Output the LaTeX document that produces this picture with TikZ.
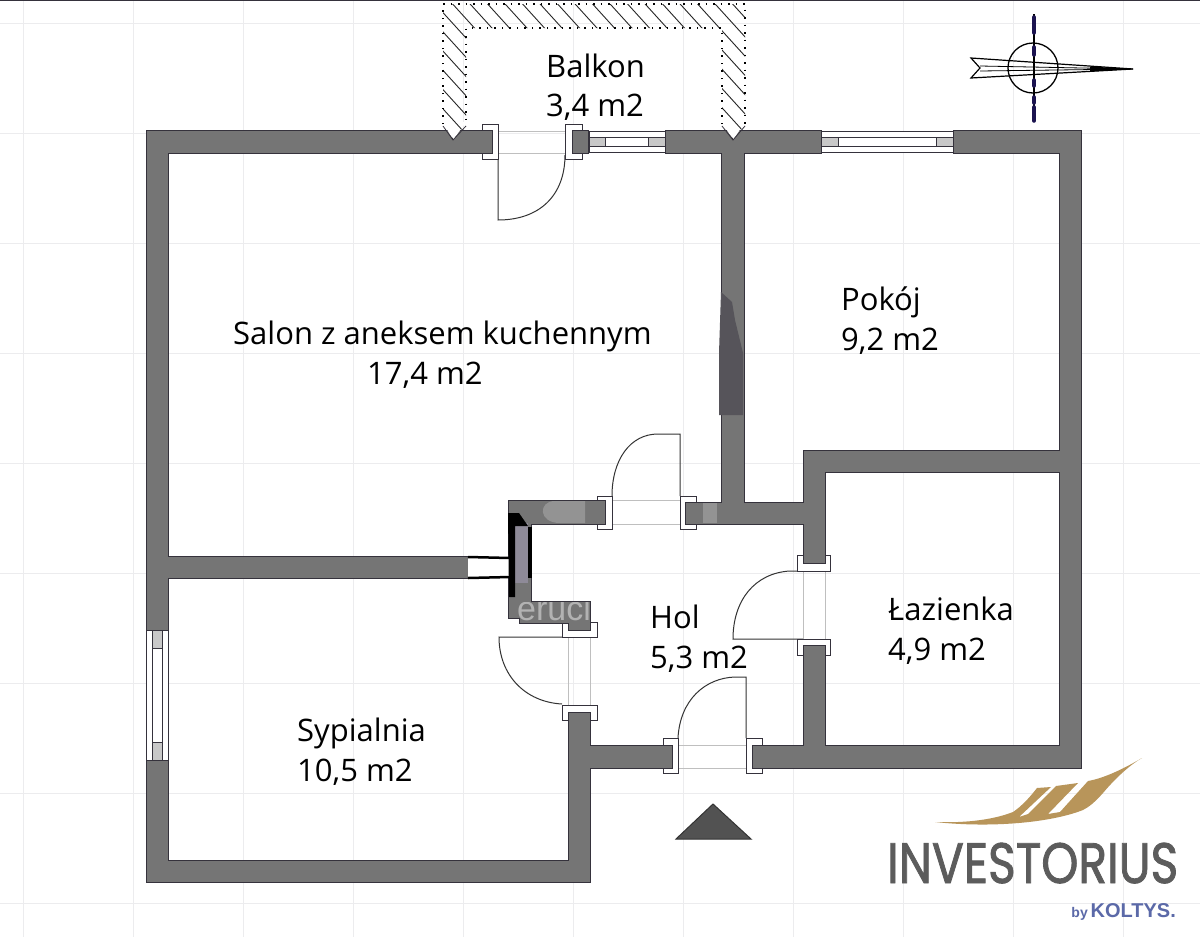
\documentclass[tikz,border=0pt]{standalone}
\usepackage{fontspec}
\setmainfont{Open Sans}
\newfontfamily\logofont[FakeBold=1.6]{Poppins}
\newfontfamily\brandfont{Liberation Sans}
\usetikzlibrary{calc}
\definecolor{wallgray}{HTML}{757575}
\definecolor{walledge}{HTML}{35323C}
\definecolor{gridgray}{HTML}{ECECEE}
\definecolor{sillgray}{HTML}{C8C8C8}
\definecolor{smeargray}{HTML}{56545A}
\definecolor{lilacgray}{HTML}{8E8A98}
\definecolor{inkblue}{HTML}{1C1450}
\definecolor{swooshgold}{HTML}{B8955A}
\definecolor{logogray}{HTML}{5C5C5C}
\definecolor{koltysblue}{HTML}{5B69A8}

\begin{document}
\begin{tikzpicture}[
        x=1pt, y=-1pt,
        wall/.style={fill=wallgray, draw=walledge, line width=1pt},
        doorframe/.style={fill=white, draw=walledge, line width=1pt},
        doorleaf/.style={draw=black!80, line width=1pt},
        opening/.style={draw=black!25, line width=0.8pt},
        sash/.style={draw=walledge, line width=1pt},
        roomlabel/.style={anchor=base west, inner sep=0, text=black, font=\fontsize{31}{31}\selectfont}
    ]
        \useasboundingbox (0,0) rectangle (1200,937);
        \fill[white] (0,0) rectangle (1200,937);

        % grid
        \foreach \x in {23,133,...,1123} {
            \draw[gridgray, line width=1pt] (\x,0) -- (\x,937);
        }
        \foreach \y in {23,133,...,903} {
            \draw[gridgray, line width=1pt] (0,\y) -- (1200,\y);
        }
        \draw[walledge, line width=1.5pt] (0,0) -- (1200,0);

        % door openings: faint lines over the gap
        \foreach \xa/\ya/\xb/\yb in {
            498/131/565/131, 498/153/565/153,
            612/500/680/500, 612/524/680/524,
            678/745/746/745, 678/768/746/768,
            803/571/803/639, 825/571/825/639,
            568/637/568/705, 590/637/590/705
        } {
            \draw[opening] (\xa,\ya) -- (\xb,\yb);
        }

        % door leaves
        \draw[doorleaf] (498,159) -- (498,220) .. controls (540,220) and (565,195) .. (565,155);
        \draw[doorleaf] (680,496) -- (680,434) -- (658,434) .. controls (630,434) and (612,460) .. (612,496);
        \draw[doorleaf] (803,571) -- (790,571) .. controls (755,573) and (733,600) .. (733,639) -- (803,639);
        \draw[doorleaf] (568,637) -- (499,637) .. controls (499,675) and (525,702) .. (562,704);
        \draw[doorleaf] (746,738) -- (746,677) -- (735,677) .. controls (705,678) and (680,700) .. (678,738);

        % door frames: xa/ya/xb/yb, the wall ends are drawn over them
        \foreach \xa/\ya/\xb/\yb in {
            482/124/498/159, 565/124/582/159,
            597/496/612/529, 680/496/696/529,
            797/555/830/571, 797/639/830/655,
            562/622/597/637, 562/705/597/720,
            663/738/678/773, 746/738/762/773
        } {
            \draw[doorframe] (\xa,\ya) rectangle (\xb,\yb);
        }

        % walls
        \draw[wall] (492,130) -- (146,130) -- (146,630) -- (168,630) -- (168,578) -- (468,578)
            -- (468,556) -- (168,556) -- (168,153) -- (492,153) -- cycle;
        \draw[wall] (146,760) -- (146,882) -- (590,882) -- (590,768) -- (672,768) -- (672,745)
            -- (590,745) -- (590,712) -- (568,712) -- (568,860) -- (168,860) -- (168,760) -- cycle;
        \draw[wall] (605,500) -- (508,500) -- (508,618) -- (519,618) -- (519,623) -- (568,623)
            -- (568,630) -- (590,630) -- (590,601) -- (531,601) -- (531,524) -- (605,524) -- cycle;
        \draw[wall] (572,130) rectangle (588,153);
        \draw[wall] (665,130) -- (821,130) -- (821,153) -- (744,153) -- (744,502) -- (803,502)
            -- (803,450) -- (1059,450) -- (1059,153) -- (953,153) -- (953,130) -- (1081,130)
            -- (1081,768) -- (752,768) -- (752,745) -- (803,745) -- (803,645) -- (825,645)
            -- (825,745) -- (1059,745) -- (1059,472) -- (825,472) -- (825,563) -- (803,563)
            -- (803,524) -- (685,524) -- (685,502) -- (721,502) -- (721,153) -- (665,153) -- cycle;

        % dark smear on the wall and lighter patches
        \fill[smeargray] (721,292) -- (732,302) -- (735,320) -- (743,353) -- (743,415) -- (719,415) -- (719,353) -- cycle;
        \fill[white!22!wallgray] (555,501) .. controls (538,501) and (538,523) .. (560,523) -- (585,523) -- (585,501) -- cycle;
        \fill[white!22!wallgray] (703,503) rectangle (717,523);

        % small window in the wall by the hall
        \fill[white] (468,558) rectangle (510,577);
        \draw[black, line width=2.5pt] (468,557) -- (510,558);
        \draw[black, line width=2.5pt] (468,578) -- (510,577);
        \fill[lilacgray] (513,523) rectangle (528,583);
        \fill[black] (508,513) -- (519,513) -- (528,526) -- (515,526) -- (515,597) -- (509,597) -- cycle;
        \fill[black] (528,527) rectangle (532,578);
        \begin{scope}
            \clip (509,602) rectangle (589,622);
            \node[anchor=base west, inner sep=0, text=black!30, font=\brandfont\fontsize{34}{34}\selectfont] (stamp) at (517,620) {eruci};
        \end{scope}

        % windows
        \foreach \xa/\xb/\xc/\xd in {589/665/605/648, 821/953/838/936} {
            \draw[sash, fill=white] (\xa,131) rectangle (\xb,152);
            \draw[sash, fill=sillgray] (\xa,137) rectangle (\xc,146);
            \draw[sash, fill=sillgray] (\xd,137) rectangle (\xb,146);
            \draw[sash, fill=white] (\xc,137) rectangle (\xd,146);
        }
        \draw[sash, fill=white] (146,630) rectangle (168,760);
        \draw[sash, fill=sillgray] (152,630) rectangle (162,648);
        \draw[sash, fill=sillgray] (152,742) rectangle (162,760);
        \draw[sash, fill=white] (152,648) rectangle (162,742);

        % balcony outline with hatching
        \fill[white] (443,122) -- (453,140) -- (466,122) -- cycle;
        \fill[white] (722,122) -- (733,140) -- (745,122) -- cycle;
        \begin{scope}
            \clip (443,4) -- (745,4) -- (745,124) -- (733,140) -- (722,124) -- (722,28) -- (466,28)
                -- (466,124) -- (453,140) -- (443,124) -- cycle;
            \foreach \k in {-9,...,17} {
                \draw[black!85, line width=0.9pt] ({449+17.5*\k},0) -- ++(160,176);
            }
        \end{scope}
        \draw[black, line width=1.3pt, dash pattern=on 1.5pt off 6pt]
            (443,124) -- (443,4) -- (745,4) -- (745,124) (722,124) -- (722,28) -- (466,28) -- (466,124);
        \draw[walledge, line width=0.8pt] (443,126) -- (453,140) -- (466,126);
        \draw[walledge, line width=0.8pt] (722,126) -- (733,140) -- (745,126);

        % room labels
        \foreach \name/\x/\y/\lbl in {
            balkon/546/77/{Balkon}, balkonarea/546/116/{3,4 m2},
            salon/233/344/{Salon z aneksem kuchennym}, salonarea/367/384/{17,4 m2},
            pokoj/841/310/{Pokój}, pokojarea/841/350/{9,2 m2},
            hol/650/628/{Hol}, holarea/650/668/{5,3 m2},
            lazienka/888/620/{Łazienka}, lazienkaarea/888/660/{4,9 m2},
            sypialnia/297/741/{Sypialnia}, sypialniaarea/297/781/{10,5 m2}
        } {
            \node[roomlabel] (\name) at (\x,\y) {\lbl};
        }

        % compass
        \draw[black, line width=1.3pt] (1033,68) circle (25);
        \draw[black, line width=1.2pt] (971,58) -- (1133,69) -- (971,78) -- (980,68) -- cycle;
        \draw[black, line width=0.8pt] (980,66) -- (1133,69) -- (980,71);
        \fill[black] (1090,66.5) -- (1133,69) -- (1090,71.5) -- cycle;
        \draw[black, line width=1.2pt] (1034,14) -- (1034,122);
        \foreach \ya/\yb in {17/33, 47/55, 80/86, 97/103, 107/121} {
            \draw[inkblue, line width=3.5pt, line cap=round] (1034,\ya) -- (1034,\yb);
        }

        % entrance mark
        \draw[fill=black!68, draw=black!80, line width=1pt] (676,839) -- (751,839) -- (713,804) -- cycle;

        % logo
        \fill[swooshgold] (935,822) .. controls (960,823) and (990,821) .. (1013,812) .. controls (1022,806) and (1030,797) .. (1037,788)
            -- (1051,787) -- (1019,817) -- (1028,814) -- (1056,786) -- (1078,783)
            -- (1048,814) -- (1060,812) -- (1088,781)
            .. controls (1105,778) and (1125,768) .. (1142,758)
            .. controls (1128,766) and (1113,781) .. (1103,793) .. controls (1095,802) and (1089,807) .. (1083,810)
            .. controls (1050,823) and (990,828) .. (935,822) -- cycle;
        \node[anchor=base west, inner sep=0, text=logogray, font=\logofont\fontsize{57}{57}\selectfont, transform shape, xscale=0.828] (investorius) at (887,883) {INVESTORIUS};
        \node[anchor=base east, inner sep=0, text=koltysblue, font=\brandfont\bfseries\fontsize{20}{20}\selectfont] (koltys) at (1176,917) {KOLTYS.};
        \node[anchor=base east, inner sep=0, text=koltysblue, font=\brandfont\bfseries\fontsize{14}{14}\selectfont] (koltysby) at (1088,917) {by};
    \end{tikzpicture}
\end{document}
